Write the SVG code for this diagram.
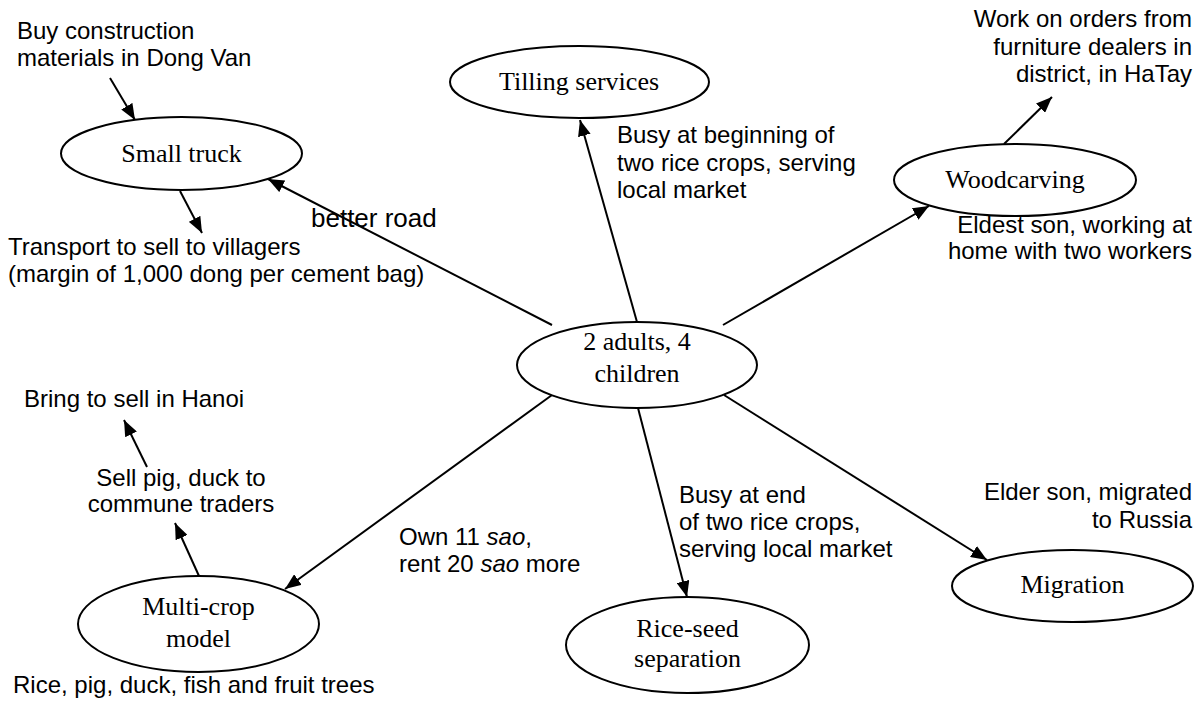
<svg xmlns="http://www.w3.org/2000/svg" width="1204" height="701" viewBox="0 0 1204 701">
<style>
.node ellipse{fill:#fff;stroke:#000;stroke-width:2}
.nt{font-family:"Liberation Serif","Times New Roman",serif;font-size:26px;fill:#000;text-anchor:middle}
.lb{font-family:"Liberation Sans",Arial,sans-serif;font-size:24px;fill:#000}
.r{text-anchor:end}
.m{text-anchor:middle}
#connectors line{stroke:#000;stroke-width:2;fill:none}
</style>
<defs>
<marker id="ah" markerUnits="userSpaceOnUse" markerWidth="17" markerHeight="13" refX="16" refY="6.5" orient="auto">
<path d="M0,0 L16,6.5 L0,13 z" fill="#000"/>
</marker>
</defs>
<rect width="1204" height="701" fill="#fff"/>
<g id="connectors">
<line x1="552" y1="325" x2="268" y2="179" marker-end="url(#ah)"/>
<line x1="637" y1="322" x2="580" y2="120" marker-end="url(#ah)"/>
<line x1="723" y1="325" x2="929" y2="206" marker-end="url(#ah)"/>
<line x1="552" y1="395" x2="285" y2="589" marker-end="url(#ah)"/>
<line x1="638" y1="408" x2="687" y2="597" marker-end="url(#ah)"/>
<line x1="724" y1="395" x2="987" y2="560" marker-end="url(#ah)"/>
<line x1="110" y1="78" x2="135" y2="120" marker-end="url(#ah)"/>
<line x1="180" y1="191" x2="202" y2="233" marker-end="url(#ah)"/>
<line x1="1004" y1="144" x2="1052" y2="97" marker-end="url(#ah)"/>
<line x1="147" y1="467" x2="124" y2="420" marker-end="url(#ah)"/>
<line x1="199" y1="576" x2="175" y2="523" marker-end="url(#ah)"/>
</g>
<g id="center" class="node">
<ellipse cx="637" cy="365" rx="120" ry="43"/>
<text class="nt" x="637" y="350">2 adults, 4</text>
<text class="nt" x="637" y="382">children</text>
</g>
<g id="small-truck" class="node">
<ellipse cx="181.5" cy="153.5" rx="120.5" ry="36.5"/>
<text class="nt" x="181.5" y="162">Small truck</text>
</g>
<g id="tilling" class="node">
<ellipse cx="579.5" cy="82" rx="129.5" ry="36"/>
<text class="nt" x="579" y="90">Tilling services</text>
</g>
<g id="woodcarving" class="node">
<ellipse cx="1015" cy="180" rx="121" ry="36"/>
<text class="nt" x="1015" y="188">Woodcarving</text>
</g>
<g id="multi-crop" class="node">
<ellipse cx="198.5" cy="624" rx="120.5" ry="48"/>
<text class="nt" x="198.5" y="615">Multi-crop</text>
<text class="nt" x="198.5" y="647">model</text>
</g>
<g id="rice-seed" class="node">
<ellipse cx="687.5" cy="645" rx="121.5" ry="48"/>
<text class="nt" x="687.5" y="637">Rice-seed</text>
<text class="nt" x="687.5" y="667">separation</text>
</g>
<g id="migration" class="node">
<ellipse cx="1072.5" cy="586" rx="120.5" ry="36"/>
<text class="nt" x="1072.5" y="593">Migration</text>
</g>
<g id="labels">
<text class="lb" x="17" y="39">Buy construction</text>
<text class="lb" x="17" y="66">materials in Dong Van</text>
<text class="lb" x="8" y="255">Transport to sell to villagers</text>
<text class="lb" x="8" y="282">(margin of 1,000 dong per cement bag)</text>
<text class="lb" x="311" y="227" style="font-size:26px">better road</text>
<text class="lb" x="617" y="143">Busy at beginning of</text>
<text class="lb" x="617" y="171">two rice crops, serving</text>
<text class="lb" x="617" y="198">local market</text>
<text class="lb r" x="1192" y="27">Work on orders from</text>
<text class="lb r" x="1192" y="55">furniture dealers in</text>
<text class="lb r" x="1192" y="82">district, in HaTay</text>
<text class="lb r" x="1192" y="233">Eldest son, working at</text>
<text class="lb r" x="1192" y="259">home with two workers</text>
<text class="lb" x="24" y="407">Bring to sell in Hanoi</text>
<text class="lb m" x="181" y="486">Sell pig, duck to</text>
<text class="lb m" x="181" y="512">commune traders</text>
<text class="lb" x="13" y="693">Rice, pig, duck, fish and fruit trees</text>
<text class="lb" x="399" y="545">Own 11 <tspan font-style="italic">sao</tspan>,</text>
<text class="lb" x="399" y="572">rent 20 <tspan font-style="italic">sao</tspan> more</text>
<text class="lb" x="679" y="503">Busy at end</text>
<text class="lb" x="679" y="530">of two rice crops,</text>
<text class="lb" x="679" y="557">serving local market</text>
<text class="lb r" x="1192" y="500">Elder son, migrated</text>
<text class="lb r" x="1192" y="528">to Russia</text>
</g>
</svg>
